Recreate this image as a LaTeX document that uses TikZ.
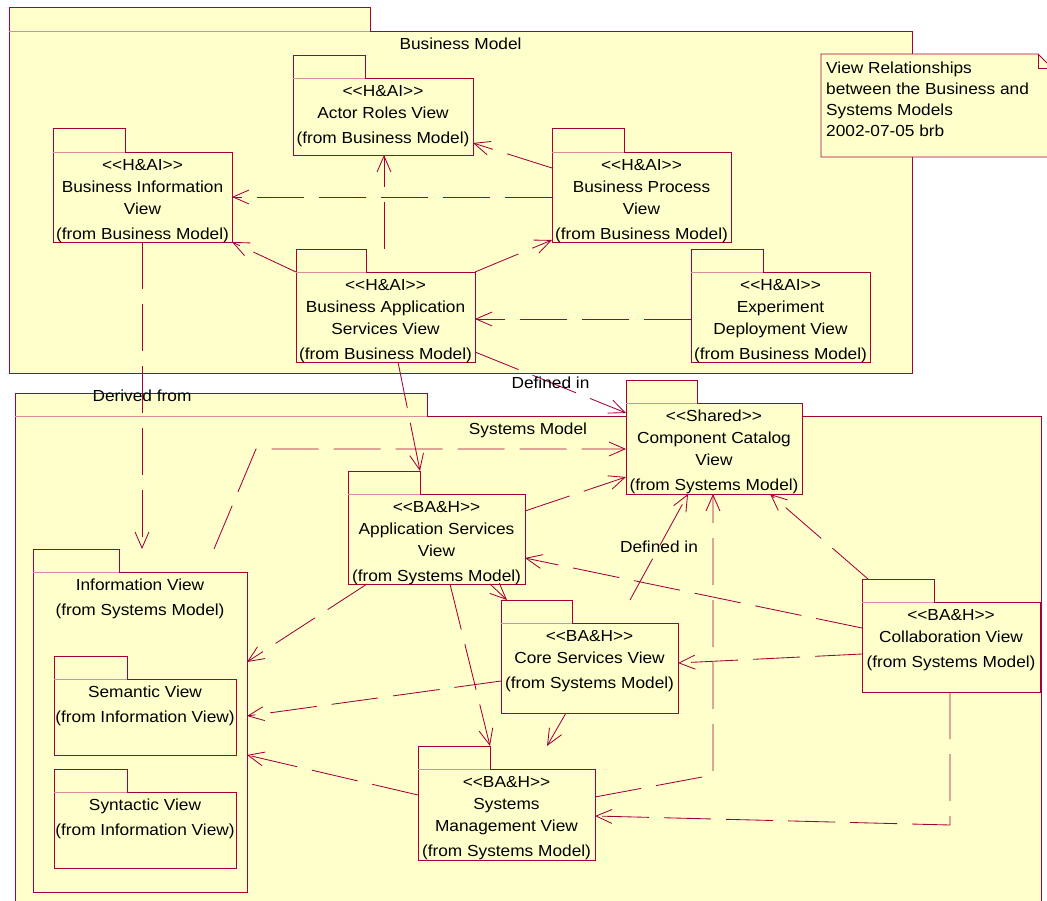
\documentclass[tikz,border=0pt]{standalone}
\usepackage{fontspec}
\setmainfont{Liberation Sans}[FakeStretch=1.08]
\usetikzlibrary{arrows.meta}
\definecolor{rline}{RGB}{165,0,60}
\definecolor{rfold}{RGB}{218,140,160}
\definecolor{pfill}{RGB}{255,255,204}

% package: name, left x, body top y, right x, bottom y, tab right x, tab top y
\newcommand\pkg[7]{%
  \node[pkgbody, anchor=north west, minimum width={#4pt-#2pt}, minimum height={#5pt-#3pt}] (#1) at (#2,#3) {};
  \node[pkgtab, anchor=south west, minimum width={#6pt-#2pt}, minimum height={#3pt-#7pt}] (#1-tab) at (#1.north west) {};
  \draw[pkgline] (#1-tab.south west) -- (#1-tab.north west) -- (#1-tab.north east) -- (#1-tab.south east);
  \draw[pkgfold] (#1-tab.south west) -- (#1-tab.south east);
}
% package text, placed at the top of the body
\newcommand\pkgname[2]{\node[pkglabel, anchor=north] (#1-name) at ([yshift=-2.5pt]#1.north) {#2};}

\begin{document}
\begin{tikzpicture}[x=1pt, y=-1pt,
  pkgbody/.style={rectangle, draw=rline, fill=pfill, line width=0.95pt, inner sep=0pt, outer sep=0pt},
  pkgtab/.style={rectangle, fill=pfill, inner sep=0pt, outer sep=0pt},
  pkgline/.style={draw=rline, line width=0.95pt},
  pkgfold/.style={draw=rfold, line width=0.8pt},
  pkglabel/.style={font=\fontsize{16}{22}\selectfont, align=center, inner sep=0pt},
  conlabel/.style={font=\fontsize{16}{22}\selectfont, inner sep=0pt},
  dep/.style={draw=rline, line width=0.85pt, dash pattern=on 47pt off 15pt,
              -{Straight Barb[length=16pt,width=14pt]}}
]
\useasboundingbox (0,0) rectangle (1047,901);
\fill[white] (0,0) rectangle (1047,901);

% ---------- enclosing models ----------
\pkg{bm}{9}{31}{912}{373}{370}{7}
\pkgname{bm}{\strut Business Model}
\pkg{sm}{15}{416}{1041}{930}{427}{393}
\pkgname{sm}{\strut Systems Model}

% ---------- note ----------
\path[fill=pfill, draw=rline, line width=0.95pt]
  (821,54) -- (1038,54) -- (1052,68) -- (1052,157) -- (821,157) -- cycle;
\draw[rline, line width=0.8pt] (1038,54) -- (1038,68) -- (1052,68);
\node[font=\fontsize{16}{21}\selectfont, align=left, anchor=north west, inner sep=0pt] (note) at (826,59)
  {\strut View Relationships\\between the Business and\\Systems Models\\2002-07-05 brb};

% ---------- business model views ----------
\pkg{ar}{293}{78}{473}{155}{365}{55}
\pkgname{ar}{\strut <{}<H\&AI>{}>\\Actor Roles View\\[3pt](from Business Model)}
\pkg{bi}{53}{152}{232}{242}{125}{128}
\pkgname{bi}{\strut <{}<H\&AI>{}>\\Business Information\\View\\[3pt](from Business Model)}
\pkg{bp}{552}{152}{731}{242}{624}{128}
\pkgname{bp}{\strut <{}<H\&AI>{}>\\Business Process\\View\\[3pt](from Business Model)}
\pkg{bas}{296}{272}{475}{362}{366}{249}
\pkgname{bas}{\strut <{}<H\&AI>{}>\\Business Application\\Services View\\[3pt](from Business Model)}
\pkg{ed}{691}{272}{870}{362}{763}{249}
\pkgname{ed}{\strut <{}<H\&AI>{}>\\Experiment\\Deployment View\\[3pt](from Business Model)}

% ---------- systems model views ----------
\pkg{cc}{626}{403}{802}{494}{697}{380}
\pkgname{cc}{\strut <{}<Shared>{}>\\Component Catalog\\View\\[3pt](from Systems Model)}
\pkg{as}{348}{494}{525}{584}{420}{471}
\pkgname{as}{\strut <{}<BA\&H>{}>\\Application Services\\View\\[3pt](from Systems Model)}
\pkg{cs}{501}{623}{678}{713}{572}{600}
\pkgname{cs}{\strut <{}<BA\&H>{}>\\Core Services View\\[3pt](from Systems Model)}
\pkg{col}{862}{602}{1040}{692}{934}{579}
\pkgname{col}{\strut <{}<BA\&H>{}>\\Collaboration View\\[3pt](from Systems Model)}
\pkg{smv}{418}{769}{595}{860}{490}{746}
\pkgname{smv}{\strut <{}<BA\&H>{}>\\Systems\\Management View\\[3pt](from Systems Model)}
\pkg{iv}{33}{572}{247}{892}{119}{549}
\pkgname{iv}{\strut Information View\\[3pt](from Systems Model)}
\pkg{sem}{54}{679}{236}{755}{127}{656}
\pkgname{sem}{\strut Semantic View\\[3pt](from Information View)}
\pkg{syn}{54}{792}{236}{868}{127}{769}
\pkgname{syn}{\strut Syntactic View\\[3pt](from Information View)}

% ---------- dependencies ----------
\draw[dep] (bp.west |- 0,197) -- (bi.east |- 0,197);
\draw[dep] (bp.west |- 0,168) -- (ar.east |- 0,143);
\draw[dep] (384,0 |- bas-tab.north) -- (384,0 |- ar.south);
\draw[dep] (bas.north west) -- (bi.south east);
\draw[dep] (bas.north east) -- (bp.west |- 0,240);
\draw[dep] (ed.west |- 0,319) -- (bas.east |- 0,319);
\draw[dep] (bas.east |- 0,352) -- node[conlabel] {Defined in} (cc.west |- 0,413);
\draw[dep] (398,0 |- bas.south) -- (as-tab.north east);
\draw[dep] (142,0 |- bi.south) -- node[conlabel] {Derived from} (142,0 |- iv-tab.north);
\draw[dep] (214,0 |- iv-tab.north) -- (256,449) -- (cc.west |- 0,449);
\draw[dep] (as.east |- 0,511) -- (cc.west |- 0,477);
\draw[dep] (630,0 |- cs-tab.north) -- node[conlabel] {Defined in} (688,0 |- cc.south);
\draw[dep] (smv.east |- 0,797) -- (713,775) -- (713,0 |- cc.south);
\draw[dep] (868,0 |- col-tab.north) -- (770,0 |- cc.south);
\draw[dep] (col.west |- 0,628) -- (as.east |- 0,558);
\draw[dep] (col.west |- 0,654) -- (cs.east |- 0,663);
\draw[dep] (950,0 |- col.south) -- (950,825) -- (smv.east |- 0,816);
\draw[dep] (367,0 |- as.south) -- (iv.east |- 0,662);
\draw[dep] (450,0 |- as.south) -- (smv-tab.north east);
\draw[dep] (490,0 |- as.south) -- (507,0 |- cs-tab.north);
\draw[dep] (cs.west |- 0,681) -- (iv.east |- 0,716);
\draw[dep] (566,0 |- cs.south) -- (547,0 |- smv-tab.north);
\draw[dep] (smv.west |- 0,795) -- (iv.east |- 0,755);
\end{tikzpicture}
\end{document}
